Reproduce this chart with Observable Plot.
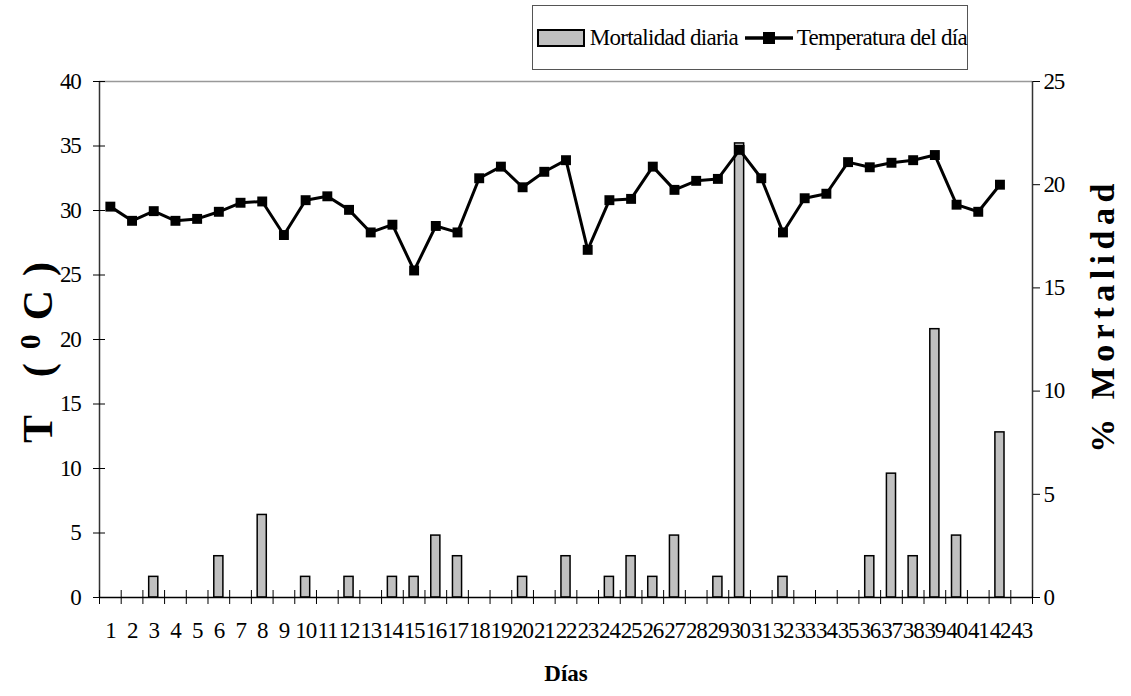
<!DOCTYPE html>
<html><head><meta charset="utf-8">
<script src="https://cdn.jsdelivr.net/npm/d3@7"></script>
<script src="https://cdn.jsdelivr.net/npm/@observablehq/plot@0.6"></script>
<style>
body{margin:0;background:#fff;}
#wrap{position:relative;width:1131px;height:696px;font-family:"Liberation Serif","Times New Roman",serif;}
#legend{position:absolute;left:532px;top:5px;width:434px;height:63px;border:1.5px solid #555;background:#fff;display:flex;align-items:center;font-size:23px;letter-spacing:-0.7px;color:#000;white-space:nowrap;}
#legend svg{display:block;}
</style></head><body>
<div id="wrap">
<div id="legend">
  <svg width="52" height="20" style="margin-left:4px"><rect x="1" y="2" width="46" height="16" fill="#c0c0c0" stroke="#000" stroke-width="2"/></svg>
  <span style="margin-left:1px">Mortalidad diaria</span>
  <svg width="48" height="20" style="margin-left:7px"><line x1="0" y1="10" x2="48" y2="10" stroke="#000" stroke-width="3.5"/><rect x="18" y="4" width="12" height="12" fill="#000"/></svg>
  <span style="margin-left:4px">Temperatura del día</span>
</div>
</div>
<script>
const days = [1,2,3,4,5,6,7,8,9,10,11,12,13,14,15,16,17,18,19,20,21,22,23,24,25,26,27,28,29,30,31,32,33,34,35,36,37,38,39,40,41,42,43];
const temperatura = [30.3,29.2,29.95,29.2,29.35,29.9,30.6,30.7,28.1,30.8,31.1,30.05,28.3,28.9,25.35,28.8,28.3,32.5,33.4,31.8,33.0,33.9,26.95,30.8,30.9,33.4,31.6,32.3,32.45,34.7,32.5,28.3,30.95,31.3,33.75,33.35,33.7,33.9,34.3,30.45,29.9,32.0];
const mortalidad = [0,0,1,0,0,2,0,4,0,1,0,1,0,1,1,3,2,0,0,1,0,2,0,1,2,1,3,0,1,22,0,1,0,0,0,2,6,2,13,3,0,8,0];
const tempTicks = [0,5,10,15,20,25,30,35,40];
const mortTicks = [0,5,10,15,20,25];

const tempMax = tempTicks[tempTicks.length-1];
const mortMax = mortTicks[mortTicks.length-1];
const factor = tempMax / mortMax;
const xDomain = [days[0]-0.5, days[days.length-1]+0.5];
const boundaries = days.map(d => d - 0.5).concat([days[days.length-1] + 0.5]);
const tempData = temperatura.map((t, i) => ({day: days[i], temp: t}));
const barData = mortalidad.map((m, i) => ({day: days[i], mort: m})).filter(d => d.mort > 0);
const halfBar = 0.21;

const chart = Plot.plot({
  width: 1131, height: 696,
  marginTop: 81, marginBottom: 99, marginLeft: 99, marginRight: 99,
  style: {fontFamily: "'Liberation Serif','Times New Roman',serif", fontSize: "23px", color: "#000", background: "transparent", overflow: "visible"},
  x: {domain: xDomain, axis: null},
  y: {domain: [0, tempMax], axis: null},
  marks: [
    Plot.ruleY([tempMax], {stroke: "#999", strokeWidth: 1.5}),
    Plot.ruleX(xDomain, {stroke: "#333", strokeWidth: 1.5}),
    Plot.rectY(barData, {x1: d => d.day - halfBar, x2: d => d.day + halfBar, y1: 0, y2: d => d.mort * factor, fill: "#c0c0c0", stroke: "#000", strokeWidth: 1.5}),
    Plot.ruleY([0], {stroke: "#000", strokeWidth: 1.5}),
    Plot.line(tempData, {x: "day", y: "temp", stroke: "#000", strokeWidth: 3}),
    Plot.dot(tempData, {x: "day", y: "temp", symbol: "square", r: 5.6, fill: "#000"}),
    Plot.axisX(days, {tickSize: 0, tickPadding: 24, fontSize: 23, label: null}),
    Plot.axisX(boundaries, {tickSize: 14, dy: -7, tickFormat: () => "", label: null}),
    Plot.axisY(tempTicks, {anchor: "left", tickSize: 12, dx: 6, tickFormat: () => "", label: null}),
    Plot.axisY(tempTicks, {anchor: "left", tickSize: 0, tickPadding: 19, fontSize: 23, label: null}),
    Plot.axisY(mortTicks.map(v => v * factor), {anchor: "right", tickSize: 7, tickPadding: 4, fontSize: 23, tickFormat: v => Math.round(v / factor), label: null}),
    Plot.text(["T (0C)"], {text: d => d, frameAnchor: "left", textAnchor: "middle", dx: -61, dy: 6, rotate: -90, fontSize: 42, fontWeight: "bold"}),
    Plot.text(["% Mortalidad"], {text: d => d, frameAnchor: "right", textAnchor: "middle", dx: 71, dy: -24, rotate: -90, fontSize: 34, fontWeight: "bold"}),
    Plot.text(["Días"], {text: d => d, frameAnchor: "bottom", dy: 83, fontSize: 23, fontWeight: "bold", letterSpacing: "-0.5px"})
  ]
});
const svg = d3.select(chart);
svg.selectAll('g[aria-label="x-axis tick label"] text, g[aria-label="y-axis tick label"] text').attr("letter-spacing", "-1.2px");
svg.selectAll("text").filter(function(){return this.textContent === "% Mortalidad";}).attr("letter-spacing", "5.5px");
svg.selectAll("text").filter(function(){return this.textContent === "T (0C)";}).each(function(){
  const t = d3.select(this);
  t.text(null).attr("letter-spacing", "14px");
  t.append("tspan").text("T (");
  t.append("tspan").attr("dy", "-12").attr("font-size", "30").text("0");
  t.append("tspan").attr("dy", "12").text("C)");
});
const wrap = document.getElementById("wrap");
wrap.insertBefore(chart, wrap.firstChild);
</script>
</body></html>
